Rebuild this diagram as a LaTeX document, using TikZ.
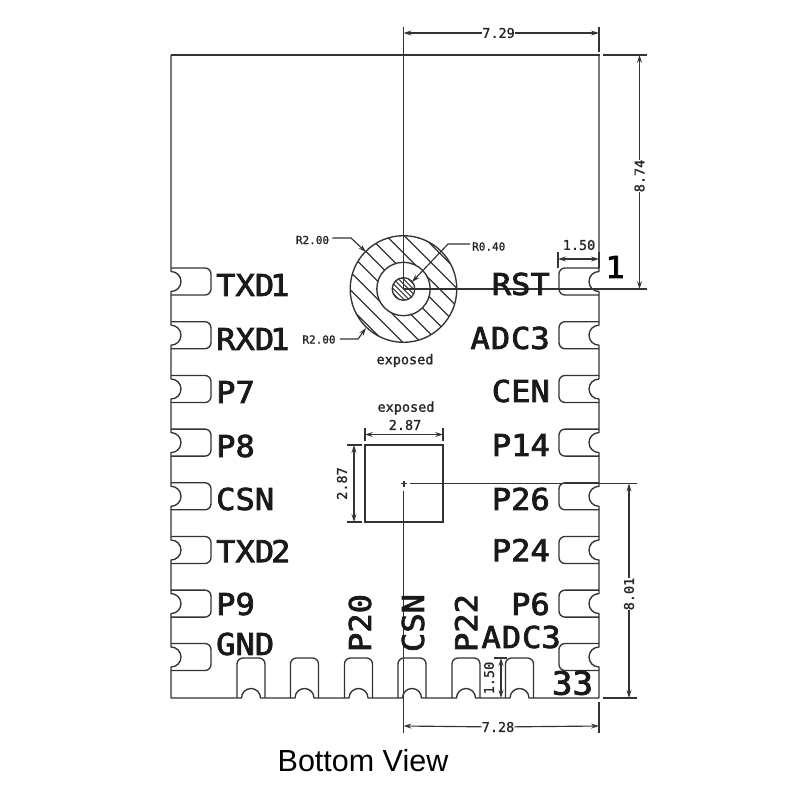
\documentclass[tikz,border=0pt]{standalone}
\usepackage{fontspec}
\usetikzlibrary{arrows.meta}
\setmainfont{Liberation Sans}
\newfontfamily\cadfont[FakeBold=1.2]{DejaVu Sans Mono}
\newfontfamily\pinfont[FakeBold=2.5,FakeStretch=1.07]{DejaVu Sans Mono}
\tikzset{
  tipa/.tip={Stealth[length=8pt,width=5pt,inset=3pt]},
  part/.style={draw=black!80,line width=1.35pt},
  dimline/.style={draw=black!80,line width=1.15pt},
  dimarrow/.style={dimline,tipa-tipa},
  leader/.style={dimline,-tipa},
  pin/.style={inner sep=0pt,text=black!90,font=\pinfont\fontsize{30}{30}\selectfont},
  pinl/.style={pin,anchor=west},
  pinr/.style={pin,anchor=east},
  dimtext/.style={inner sep=0pt,text=black!85,font=\cadfont\fontsize{13.5}{13.5}\selectfont},
  smalltext/.style={inner sep=0pt,text=black!85,font=\cadfont\fontsize{11}{11}\selectfont},
}
\begin{document}
\begin{tikzpicture}[x=1pt,y=-1pt]
\useasboundingbox (0,0) rectangle (800,800);
% outline with notches
\draw[part,line join=round] (171,55) -- (599.5,55);
\draw[part,line join=round] (599,55)
  \foreach \c in {281.5,335.2,389,442.6,496.3,550,603.6,657}{ -- (599,{\c-10}) arc[start angle=90,end angle=270,radius=10pt] }
  -- (599,698)
  \foreach \c in {519.5,466,412,358.5,304.5,251}{ -- ({\c+9.5},698) arc[start angle=0,end angle=180,radius=9.5pt] }
  -- (171,698)
  \foreach \c in {657,603.6,550,496.3,442.6,389,335.2,281.5}{ -- (171,{\c+10}) arc[start angle=-90,end angle=90,radius=10pt] }
  -- (171,55);
\foreach \c in {281.5,335.2,389,442.6,496.3,550,603.6,657}{
  \draw[part,rounded corners=6pt] (171,{\c-13.5}) -- (211,{\c-13.5}) -- (211,{\c+13.5}) -- (171,{\c+13.5});
  \draw[part,rounded corners=6pt] (599,{\c-13.5}) -- (559,{\c-13.5}) -- (559,{\c+13.5}) -- (599,{\c+13.5});
}
\foreach \c in {251,304.5,358.5,412,466,519.5}{
  \draw[part,rounded corners=6pt] ({\c-14},698) -- ({\c-14},658) -- ({\c+14},658) -- ({\c+14},698);
}
% hatched circles
\coordinate (hole) at (403.5,289);
\begin{scope}
  \clip (hole) circle[radius=53.3pt];
  \foreach \o in {-72,-54,-36,-18,0,18,36,54,72}{
    \draw[dimline] ({403.5+\o-60},{289-60}) -- ({403.5+\o+60},{289+60});
  }
\end{scope}
\draw[part,fill=white] (hole) circle[radius=26.7pt];
\begin{scope}
  \clip (hole) circle[radius=11.3pt];
  \foreach \o in {-15,-10,-5,0,5,10,15}{
    \draw[line width=1pt,black!85] ({403.5+\o-16},{289-16}) -- ({403.5+\o+16},{289+16});
  }
\end{scope}
\draw[part] (hole) circle[radius=53.3pt];
\draw[part] (hole) circle[radius=11.3pt];
% exposed pad
\node[draw=black!80,line width=1.35pt,minimum width=78pt,minimum height=77pt,inner sep=0pt] (pad) at (404,483.5) {};
\draw[dimline] (401,483.5) -- (407,483.5) (404,480.5) -- (404,486.5);
% long extension lines
\draw[dimline] (403.5,27) -- (hole);
\draw[dimline] (hole) -- (647,289);
\draw[dimline] (410,483.5) -- (637,483.5);
\draw[dimline] (403.5,491) -- (403.5,733);
% 7.29
\node[dimtext] (dtop) at (498.5,33) {7.29};
\draw[dimline] (599,27) -- (599,52);
\draw[dimline,tipa-] (403.5,33) -- (dtop);
\draw[dimline,-tipa] (dtop) -- (599,33);
% 8.74
\node[dimtext,rotate=90] (dright) at (639.5,176) {8.74};
\draw[dimline] (603,55) -- (647,55);
\draw[dimline,tipa-] (639.5,55) -- (dright);
\draw[dimline,-tipa] (dright) -- (639.5,289);
% 1.50 top
\node[dimtext] (dpin) at (579,245) {1.50};
\draw[dimline] (558,252) -- (558,268);
\draw[dimarrow] (558,259) -- (599,259);
\draw[dimline] (599,252) -- (599,268);
\node[inner sep=0pt,font=\pinfont\fontsize{30}{30}\selectfont] (one) at (615,267) {1};
% radius labels
\node[smalltext] (rt) at (312.5,240) {R2.00};
\node[smalltext] (rb) at (319,339.5) {R2.00};
\node[smalltext,anchor=west] (rs) at (472,246.5) {R0.40};
\coordinate (rtk) at (351,238);
\coordinate (rbk) at (358,339);
\coordinate (rsk) at (448,244);
\coordinate (rta) at (366,252);
\coordinate (rba) at (366,328);
\coordinate (rsa) at (412,282);
\draw[leader] (rt.east)++(3,-2) -- (rtk) -- (rta);
\draw[leader] (rb.east)++(4,-0.5) -- (rbk) -- (rba);
\draw[leader] (rs.west)++(-2,-2.5) -- (rsk) -- (rsa);
\node[dimtext] (e1) at (405,360.5) {exposed};
\node[dimtext] (e2) at (406,408) {exposed};
% 2.87
\node[dimtext] (dw) at (405,425) {2.87};
\draw[dimline] (365,428) -- (365,441) (443,428) -- (443,441);
\draw[dimarrow] (365,434.5) -- (443,434.5);
\node[dimtext,rotate=90] (dh) at (342,483.5) {2.87};
\draw[dimline] (347,445) -- (362,445) (347,522) -- (362,522);
\draw[dimarrow] (354,445) -- (354,522);
% 8.01
\node[dimtext,rotate=90] (d801) at (629,594) {8.01};
\draw[dimline] (603,698) -- (637,698);
\draw[dimline,tipa-] (629,483.5) -- (d801);
\draw[dimline,-tipa] (d801) -- (629,698);
% 7.28
\node[dimtext] (dbot) at (498,727) {7.28};
\draw[dimline] (599,702) -- (599,733);
\draw[dimline,tipa-] (403.5,726) -- (dbot);
\draw[dimline,-tipa] (dbot) -- (599,726);
% 1.50 bottom
\node[dimtext,rotate=90] (dpb) at (489,678) {1.50};
\draw[dimline] (494,658) -- (507,658);
\draw[dimarrow] (501,658) -- (501,698);
% pin labels
\node[pinl] (l1) at (216,285) {TXD\kern-4pt 1};
\node[pinl] (l2) at (216,339) {RXD\kern-4pt 1};
\node[pinl] (l3) at (216,392) {P7};
\node[pinl] (l4) at (216,446) {P8};
\node[pinl] (l5) at (216,499) {CSN};
\node[pinl] (l6) at (216,551) {TXD\kern-3pt 2};
\node[pinl] (l7) at (216,604) {P9};
\node[pinl] (l8) at (216,644) {GND};
\node[pinr] (r1) at (550,284) {RST};
\node[pinr] (r2) at (550,338) {A\kern1pt D\kern1pt C3};
\node[pinr] (r3) at (550,391) {CEN};
\node[pinr] (r4) at (550,445) {P14};
\node[pinr] (r5) at (550,499) {P26};
\node[pinr] (r6) at (550,550) {P24};
\node[pinr] (r7) at (550,604) {P6};
\node[pinr] (r8) at (561,637) {A\kern1pt D\kern1pt C3};
\node[pin,font=\pinfont\fontsize{32}{32}\selectfont] (n33) at (572.5,683) {33};
\node[pin,rotate=90] (b1) at (360,623) {P20};
\node[pin,rotate=90] (b2) at (413,623) {CSN};
\node[pin,rotate=90] (b3) at (466,623) {P22};
\node[inner sep=0pt,font=\fontsize{30.5}{30.5}\selectfont] (title) at (363,761) {Bottom View};
\end{tikzpicture}
\end{document}
